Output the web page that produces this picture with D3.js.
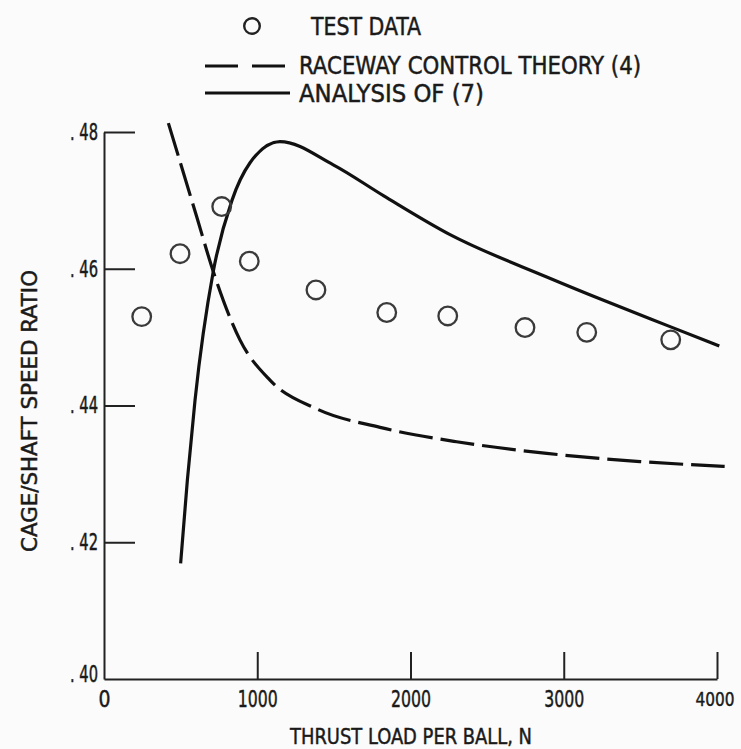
<!DOCTYPE html>
<html>
<head>
<meta charset="utf-8">
<script src="https://cdn.jsdelivr.net/npm/d3@7"></script>
<style>
  body { margin: 0; background: #fbfbfb; }
  svg { display: block; }
  text { font-family: "DejaVu Sans Condensed", "Liberation Sans Narrow", "DejaVu Sans", sans-serif; fill: #1a1a1a; stroke: #1a1a1a; stroke-width: 0.45; }
  .axis path, .axis line { stroke: #222; stroke-width: 2; }
</style>
</head>
<body>
<svg id="chart" width="741" height="749"></svg>
<script>
// test data (circles)
var test_load  = [246, 496, 768, 948, 1383, 1845, 2243, 2747, 3150, 3698];
var test_ratio = [.4530, .4622, .4691, .4611, .4569, .4536, .4531, .4514, .4507, .4496];

// raceway control theory (4), dashed
var raceway_load  = [420, 605, 713, 887, 1083, 1388, 1801, 2301, 2889, 3498, 4050];
var raceway_ratio = [.4813, .4676, .4596, .4496, .4437, .4395, .4368, .4347, .4330, .4318, .4311];

// analysis of (7), solid
var analysis_load  = [500, 544, 594, 713, 835, 953, 1148, 1496, 1823, 2258, 2889, 3280, 3698, 4015];
var analysis_ratio = [.4169, .4291, .4408, .4596, .4700, .4755, .4786, .4752, .4707, .4650, .4588, .4552, .4515, .4487];

var x_ticks = [0, 1000, 2000, 3000, 4000];
var y_ticks = [.40, .42, .44, .46, .48];

var svg = d3.select("#chart");

var xscale = d3.scaleLinear().domain([0, 4000]).range([104, 717]);
var yscale = d3.scaleLinear().domain([.40, .48]).range([679, 132]);

// axes, ticks point inward
var xaxis = d3.axisBottom(xscale)
    .tickValues(x_ticks)
    .tickFormat(d3.format("d"))
    .tickSizeInner(-27)
    .tickSizeOuter(0)
    .tickPadding(8);

var yaxis = d3.axisLeft(yscale)
    .tickValues(y_ticks)
    .tickFormat(d => ". " + d3.format(".2f")(d).slice(2))
    .tickSizeInner(-31)
    .tickSizeOuter(0)
    .tickPadding(8);

var gx = svg.append("g")
    .attr("class", "axis")
    .attr("transform", "translate(0," + yscale(.40) + ")")
    .call(xaxis);
gx.selectAll(".tick line").filter(d => d == 0).remove();
gx.selectAll("text")
    .attr("font-size", 23)
    .attr("dy", "0.85em")
    .attr("textLength", d => d == 0 ? 12 : 40)
    .attr("lengthAdjust", "spacingAndGlyphs");
// last label sits against the right edge
gx.selectAll(".tick").filter(d => d == 4000).select("text")
    .attr("font-size", 20)
    .attr("dy", "0.95em")
    .attr("text-anchor", "end")
    .attr("x", 17)
    .attr("textLength", 39);

var gy = svg.append("g")
    .attr("class", "axis")
    .attr("transform", "translate(" + xscale(0) + ",0)")
    .call(yaxis);
gy.selectAll(".tick line").filter(d => d == .40).remove();
gy.selectAll("text")
    .attr("font-size", 23)
    .attr("x", -6)
    .attr("textLength", 28)
    .attr("lengthAdjust", "spacingAndGlyphs");
gy.selectAll(".tick").filter(d => d == .40).select("text").attr("dy", "0.1em");

// axis titles
svg.append("text")
    .attr("x", 411).attr("y", 744)
    .attr("text-anchor", "middle")
    .attr("font-size", 22)
    .attr("textLength", 242)
    .attr("lengthAdjust", "spacingAndGlyphs")
    .text("THRUST LOAD PER BALL, N");

svg.append("text")
    .attr("transform", "translate(37,411) rotate(-90)")
    .attr("text-anchor", "middle")
    .attr("font-size", 22)
    .attr("textLength", 282)
    .attr("lengthAdjust", "spacingAndGlyphs")
    .text("CAGE/SHAFT  SPEED RATIO");

// curves
var line = d3.line()
    .x(d => xscale(d[0]))
    .y(d => yscale(d[1]))
    .curve(d3.curveMonotoneX);

svg.append("path")
    .datum(d3.zip(raceway_load, raceway_ratio))
    .attr("fill", "none")
    .attr("stroke", "#111")
    .attr("stroke-width", 3.2)
    .attr("stroke-dasharray", "34,8")
    .attr("d", line);

svg.append("path")
    .datum(d3.zip(analysis_load, analysis_ratio))
    .attr("fill", "none")
    .attr("stroke", "#111")
    .attr("stroke-width", 3.2)
    .attr("d", line);

svg.append("g")
    .selectAll("circle")
    .data(d3.zip(test_load, test_ratio))
    .join("circle")
    .attr("cx", d => xscale(d[0]))
    .attr("cy", d => yscale(d[1]))
    .attr("r", 9.3)
    .attr("fill", "none")
    .attr("stroke", "#3a3a3a")
    .attr("stroke-width", 2.3);

// legend
var legend = svg.append("g");
legend.append("circle")
    .attr("cx", 252).attr("cy", 26).attr("r", 7.8)
    .attr("fill", "none").attr("stroke", "#222").attr("stroke-width", 2.4);
legend.append("line")
    .attr("x1", 205).attr("x2", 290).attr("y1", 66).attr("y2", 66)
    .attr("stroke", "#111").attr("stroke-width", 3)
    .attr("stroke-dasharray", "33,14");
legend.append("line")
    .attr("x1", 205).attr("x2", 290).attr("y1", 93).attr("y2", 93)
    .attr("stroke", "#111").attr("stroke-width", 3);

var legend_labels = ["TEST DATA", "RACEWAY CONTROL THEORY (4)", "ANALYSIS OF (7)"];
var legend_widths = [110, 342, 185];
var legend_y = [35, 74, 102];
legend_labels.forEach(function(label, i) {
    legend.append("text")
        .attr("x", i == 0 ? 311 : 299)
        .attr("y", legend_y[i])
        .attr("font-size", 24)
        .attr("textLength", legend_widths[i])
        .attr("lengthAdjust", "spacingAndGlyphs")
        .text(label);
});
</script>
</body>
</html>
